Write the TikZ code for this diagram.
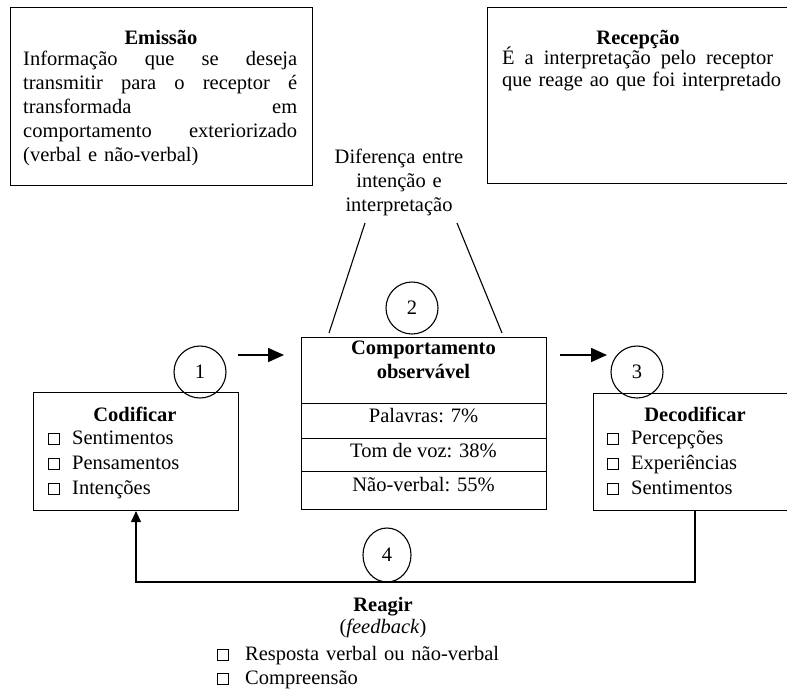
\documentclass[tikz,border=0pt]{standalone}
\usepackage{fontspec}
\setmainfont{Liberation Serif}
\usetikzlibrary{arrows.meta,shapes.geometric}
\hyphenpenalty=10000
\exhyphenpenalty=10000
\newcommand\sqb{{\setlength\fboxsep{0pt}\setlength\fboxrule{0.7pt}\fbox{\rule{0pt}{10pt}\hspace{10pt}}}}
\newcommand\itm[2][24pt]{\makebox[#1][l]{\sqb}#2}
\begin{document}
\begin{tikzpicture}[x=1pt,y=-1pt,
  frame/.style={draw,line width=1.1pt,inner sep=0pt,anchor=north west},
  txt/.style={inner sep=0pt,font=\fontsize{20.5}{24}\selectfont},
  ttl/.style={inner sep=0pt,font=\fontsize{20.5}{24}\selectfont\bfseries,anchor=base},
  num/.style={draw,circle,line width=1.1pt,minimum size=52pt,inner sep=0pt,font=\fontsize{20.5}{24}\selectfont},
  link/.style={line width=1.1pt},
  flow/.style={line width=1.6pt,-{Triangle[length=16pt,width=14pt]}},
]
\clip (0,0) rectangle (787,689);
% top boxes
\node[frame,minimum width=302pt,minimum height=178pt] (emis) at (10,7) {};
\node[frame,minimum width=310pt,minimum height=176pt] (recep) at (487,7) {};
\node[ttl] (emisT) at (161,44) {Emissão};
\node[txt,anchor=base west,text width=274pt,align=left] (emisB) at (23,65)
  {Informação\hfill que\hfill se\hfill deseja\\
   transmitir\hfill para\hfill o\hfill receptor\hfill é\\
   transformada\hfill em\\
   comportamento\hfill exteriorizado\\
   (verbal e não-verbal)};
\node[ttl] (recepT) at (638,44) {Recepção};
\node[txt,anchor=base west,text width=271pt,align=left,font=\fontsize{20.5}{22}\selectfont] (recepB) at (502,64)
  {É\hfill a\hfill interpretação\hfill pelo\hfill receptor\\
   \mbox{que reage ao que foi interpretado}};
% difference label
\node[txt,anchor=base,text width=170pt,align=center] (dif) at (399,163)
  {Diferença entre\\ intenção e\\ interpretação};
\coordinate (l1a) at (365,223);
\coordinate (l1b) at (329,333);
\coordinate (l2a) at (457,223);
\coordinate (l2b) at (502,333);
\draw[link] (l1a) -- (l1b);
\draw[link] (l2a) -- (l2b);
% codificar
\node[frame,minimum width=205pt,minimum height=118pt] (codif) at (33,392) {};
\node[ttl] (codT) at (135,421) {Codificar};
\node[txt,anchor=base west,text width=185pt,align=left,font=\fontsize{20.5}{25}\selectfont] (codL) at (48,444)
  {\itm{Sentimentos}\\ \itm{Pensamentos}\\ \itm{Intenções}};
% middle box
\node[frame,minimum width=245pt,minimum height=66pt] (mid1) at (301,337) {};
\node[frame,minimum width=245pt,minimum height=35pt] (mid2) at (301,403) {};
\node[frame,minimum width=245pt,minimum height=33pt] (mid3) at (301,438) {};
\node[frame,minimum width=245pt,minimum height=38pt] (mid4) at (301,471) {};
\node[ttl,text width=240pt,align=center] (midT) at (423.5,354) {Comportamento\\ observável};
\node[txt,anchor=base] (midA) at (423.5,422) {Palavras: 7\%};
\node[txt,anchor=base] (midB) at (423.5,457) {Tom de voz: 38\%};
\node[txt,anchor=base] (midC) at (423.5,491) {Não-verbal: 55\%};
% decodificar
\node[frame,minimum width=200pt,minimum height=117pt] (decod) at (593,393) {};
\node[ttl] (decT) at (695,421) {Decodificar};
\node[txt,anchor=base west,text width=170pt,align=left,font=\fontsize{20.5}{25}\selectfont] (decL) at (607,444)
  {\itm{Percepções}\\ \itm{Experiências}\\ \itm{Sentimentos}};
% circles
\node[num] (c1) at (200,372) {1};
\node[num] (c2) at (412,308) {2};
\node[num] (c3) at (637,372) {3};
\node[num,ellipse,minimum width=48pt,minimum height=54pt] (c4) at (387,555) {4};
% arrows
\coordinate (a1s) at (238,355);
\coordinate (a1e) at (284,355);
\coordinate (a2s) at (560,355);
\coordinate (a2e) at (607,355);
\draw[flow] (a1s) -- (a1e);
\draw[flow] (a2s) -- (a2e);
% feedback loop
\coordinate (fbR) at (695,582);
\coordinate (fbL) at (136,582);
\draw[link,-{Triangle[length=11pt,width=10pt]}] (decod.south -| fbR) -- (fbR) -- (fbL) -- (codif.south -| fbL);
% reagir
\node[ttl] (reagT) at (383,611) {Reagir};
\node[txt,anchor=base] (reagF) at (383,633) {(\textit{feedback})};
\node[txt,anchor=base west,text width=320pt,align=left] (reagL) at (217,660)
  {\itm[28pt]{Resposta verbal ou não-verbal}\\ \itm[28pt]{Compreensão}};
\end{tikzpicture}
\end{document}
